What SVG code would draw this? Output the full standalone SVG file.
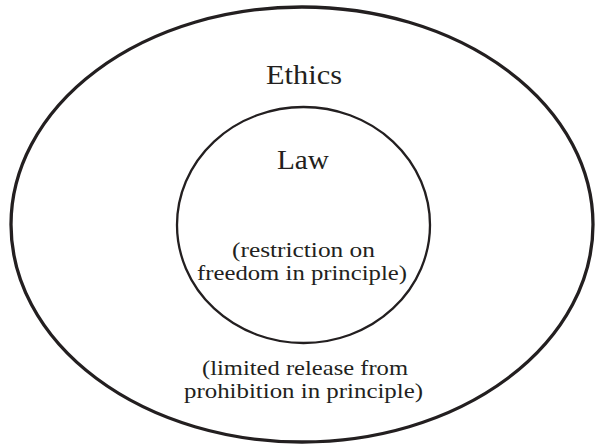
<svg xmlns="http://www.w3.org/2000/svg" width="595" height="445" viewBox="0 0 595 445">
<style>
.ln{fill:none;stroke:#231f20}
.t{font-family:"Liberation Serif","DejaVu Serif",serif;fill:#231f20;text-anchor:middle}
.s{font-size:21px}
</style>
<rect width="595" height="445" fill="#fff"/>
<g id="ethics">
<ellipse class="ln" cx="302" cy="224.5" rx="291" ry="217.5" stroke-width="3.3"/>
<text class="t" x="304" y="84" font-size="27" textLength="76" lengthAdjust="spacingAndGlyphs">Ethics</text>
<text class="t s" x="305" y="375" textLength="206" lengthAdjust="spacingAndGlyphs">(limited release from</text>
<text class="t s" x="303.5" y="398" textLength="239" lengthAdjust="spacingAndGlyphs">prohibition in principle)</text>
</g>
<g id="law">
<ellipse class="ln" cx="303.5" cy="225" rx="126.5" ry="118" stroke-width="2.3"/>
<text class="t" x="303" y="169" font-size="27" textLength="52" lengthAdjust="spacingAndGlyphs">Law</text>
<text class="t s" x="303.5" y="257" textLength="143" lengthAdjust="spacingAndGlyphs">(restriction on</text>
<text class="t s" x="302" y="280" textLength="210" lengthAdjust="spacingAndGlyphs">freedom in principle)</text>
</g>
<g id="connectors"/>
</svg>
